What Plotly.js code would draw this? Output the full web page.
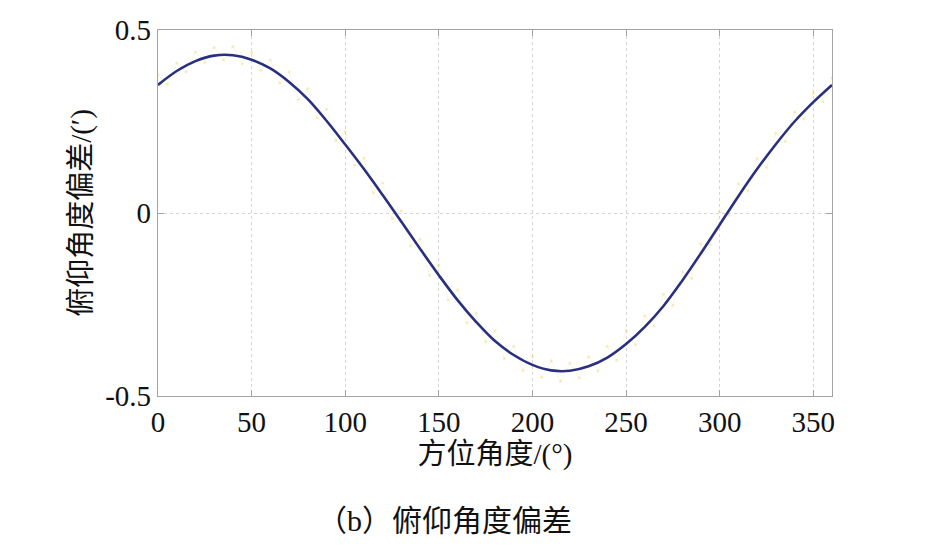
<!DOCTYPE html>
<html>
<head>
<meta charset="utf-8">
<script src="https://cdn.plot.ly/plotly-3.0.1.min.js"></script>
<style>body{margin:0;background:#fff}</style>
</head>
<body>
<div id="chart"></div>
<script>
// fitted pitch deviation curve, read every 10 degrees
var azimuth = [0,10,20,30,40,50,60,70,80,90,100,110,120,130,140,150,160,170,180,
  190,200,210,220,230,240,250,260,270,280,290,300,310,320,330,340,350,360];
var pitchFit = [0.350,0.388,0.415,0.430,0.431,0.419,0.395,0.358,0.311,0.252,0.187,0.120,0.049,-0.024,-0.098,-0.170,-0.238,-0.298,-0.350,
  -0.388,-0.415,-0.430,-0.431,-0.419,-0.395,-0.358,-0.311,-0.254,-0.185,-0.110,-0.032,0.046,0.120,0.188,0.250,0.303,0.350];

// measured (noisy) samples behind the fit, every 5 degrees
var azimuthMeas = [0,5,10,15,20,25,30,35,40,45,50,55,60,65,70,75,80,85,90,95,100,105,110,115,120,125,130,135,140,145,150,155,160,165,170,175,180,
  185,190,195,200,205,210,215,220,225,230,235,240,245,250,255,260,265,270,275,280,285,290,295,300,305,310,315,320,325,330,335,340,345,350,355,360];
var pitchMeas = [0.378,0.352,0.410,0.386,0.440,0.412,0.452,0.418,0.455,0.408,0.440,0.390,0.418,0.355,0.386,0.310,0.340,0.260,0.284,0.198,0.222,0.130,0.150,0.055,0.082,-0.015,0.006,-0.090,-0.072,-0.170,-0.142,-0.238,-0.210,-0.300,-0.274,-0.352,-0.322,
  -0.398,-0.364,-0.430,-0.392,-0.449,-0.404,-0.460,-0.410,-0.450,-0.393,-0.432,-0.364,-0.402,-0.322,-0.360,-0.281,-0.309,-0.222,-0.252,-0.160,-0.178,-0.084,-0.086,0.004,-0.006,0.080,0.060,0.149,0.124,0.218,0.196,0.276,0.257,0.328,0.304,0.370];

var xTicks = [0,50,100,150,200,250,300,350];
var yTicks = [-0.5,0,0.5];
var yTickText = ['-0.5','0','0.5'];

var serif = '"Liberation Serif", "Times New Roman", "Noto Sans CJK SC", serif';

var data = [
  {
    type: 'scatter',
    mode: 'lines+markers',
    x: azimuthMeas,
    y: pitchMeas,
    line: { color: 'rgba(236,212,100,0.18)', width: 1 },
    marker: { size: 3, color: 'rgba(236,212,100,0.4)' },
    hoverinfo: 'skip'
  },
  {
    type: 'scatter',
    mode: 'lines',
    x: azimuth,
    y: pitchFit,
    line: { color: '#28307f', width: 2.6, shape: 'spline', smoothing: 1 }
  }
];

var axisBase = {
  showline: true, mirror: 'ticks', linecolor: '#a3a3a3', linewidth: 1.2,
  ticks: 'inside', ticklen: 6, tickcolor: '#a3a3a3',
  showgrid: true, gridcolor: '#d6d6d6', griddash: 'dot', gridwidth: 1,
  zeroline: false,
  tickfont: { family: serif, size: 29, color: '#111' }
};

var layout = {
  width: 925, height: 559,
  margin: { l: 158, r: 93, t: 30, b: 163 },
  paper_bgcolor: '#fff', plot_bgcolor: '#fff',
  showlegend: false,
  xaxis: Object.assign({}, axisBase, {
    range: [0, 360], tickvals: xTicks, ticktext: xTicks.map(String),
    title: { text: '方位角度/(°)', font: { family: serif, size: 29, color: '#111' }, standoff: 4 }
  }),
  yaxis: Object.assign({}, axisBase, {
    range: [-0.5, 0.5], tickvals: yTicks, ticktext: yTickText,
    title: { text: '俯仰角度偏差/(′)', font: { family: serif, size: 29, color: '#111' }, standoff: 5 }
  }),
  annotations: [
    {
      text: '（b）俯仰角度偏差', xref: 'paper', yref: 'paper', x: 0.425, y: -0.34,
      xanchor: 'center', yanchor: 'middle', showarrow: false,
      font: { family: serif, size: 30, color: '#111' }
    }
  ]
};

Plotly.newPlot('chart', data, layout, { displayModeBar: false });
</script>
</body>
</html>
